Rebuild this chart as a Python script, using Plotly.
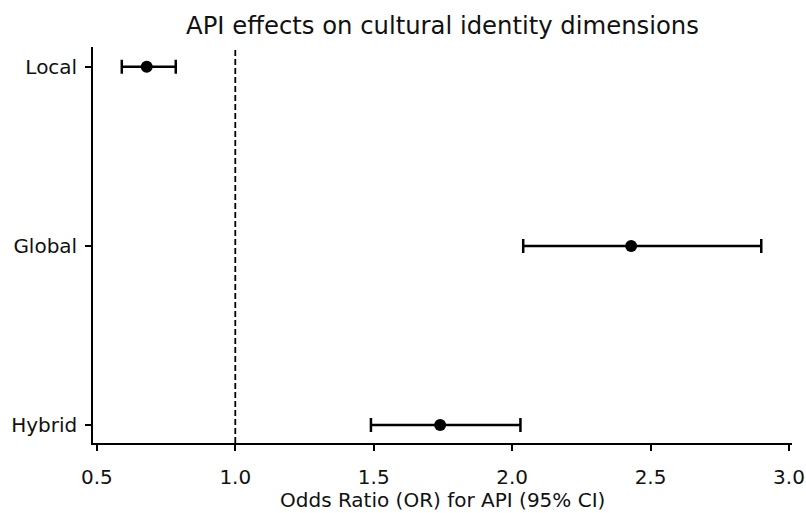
import plotly.graph_objects as go

categories = ["Local", "Global", "Hybrid"]
odds_ratio = [0.68, 2.43, 1.74]
ci_low = [0.59, 2.04, 1.49]
ci_high = [0.785, 2.90, 2.03]
x_ticks = [0.5, 1.0, 1.5, 2.0, 2.5, 3.0]
ref_line = 1.0
x_title = "Odds Ratio (OR) for API (95% CI)"

ypos = [2, 1, 0]
err_plus = [h - o for h, o in zip(ci_high, odds_ratio)]
err_minus = [o - l for o, l in zip(odds_ratio, ci_low)]

FONT = "DejaVu Sans"

fig = go.Figure()
fig.add_trace(go.Scatter(
    x=odds_ratio, y=ypos, mode="markers",
    marker=dict(color="black", size=12),
    error_x=dict(type="data", symmetric=False, array=err_plus, arrayminus=err_minus,
                 color="black", thickness=2.5, width=7),
    showlegend=False,
))
fig.add_shape(type="line", x0=ref_line, x1=ref_line, y0=0, y1=1, yref="paper",
              line=dict(color="black", width=1.8, dash="6px,3px"))
fig.add_annotation(text=x_title, xref="paper", yref="paper", x=0.5, y=0,
                   yshift=-57, xanchor="center", yanchor="middle", showarrow=False,
                   font=dict(size=20, family=FONT, color="#111111"))

fig.update_layout(
    width=806, height=513,
    margin=dict(l=93, r=14, t=47, b=70),
    plot_bgcolor="white", paper_bgcolor="white",
    font=dict(family=FONT, size=20, color="#111111"),
    title=dict(text="API effects on cultural identity dimensions", x=0.549, xanchor="center",
               y=0.951, yanchor="middle", font=dict(size=24.3, family=FONT)),
    xaxis=dict(range=[0.486, 3.011], tickvals=x_ticks, ticktext=[f"{v:.1f}" for v in x_ticks],
               showgrid=False, zeroline=False, showline=True, linecolor="black", linewidth=1.6,
               ticks="outside", ticklen=6, tickwidth=1.6, tickcolor="black",
               ticklabelstandoff=9, automargin=False),
    yaxis=dict(range=[-0.1, 2.11], tickvals=ypos, ticktext=categories,
               showgrid=False, zeroline=False, showline=True, linecolor="black", linewidth=1.6,
               ticks="outside", ticklen=6, tickwidth=1.6, tickcolor="black",
               ticklabelstandoff=4, automargin=False),
)

fig.write_html("out.html", config={"displayModeBar": False},
               post_script="document.body.style.margin='0';")
